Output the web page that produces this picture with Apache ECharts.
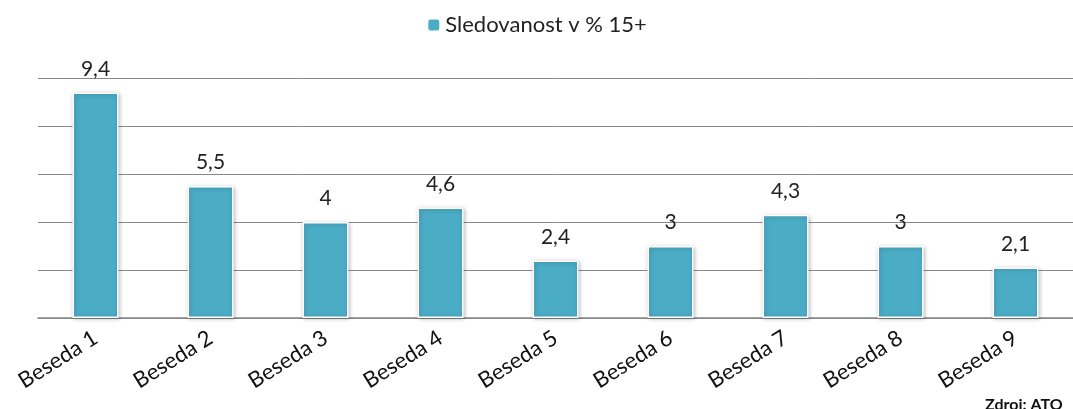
<!DOCTYPE html>
<html>
<head>
<meta charset="utf-8">
<script src="https://cdn.jsdelivr.net/npm/echarts@6/dist/echarts.min.js"></script>
<style>
  html, body { margin: 0; padding: 0; background: #fff; }
  #chart { width: 1073px; height: 409px; }
</style>
</head>
<body>
<div id="chart"></div>
<script>
const categories = ['Beseda 1', 'Beseda 2', 'Beseda 3', 'Beseda 4', 'Beseda 5', 'Beseda 6', 'Beseda 7', 'Beseda 8', 'Beseda 9'];
const values = [9.4, 5.5, 4, 4.6, 2.4, 3, 4.3, 3, 2.1];
const seriesName = 'Sledovanost v % 15+';

const chart = echarts.init(document.getElementById('chart'));
const font = 'Lato, "Open Sans", sans-serif';

chart.setOption({
  animation: false,
  textStyle: { fontFamily: font },
  legend: {
    top: 9,
    left: 'center',
    itemWidth: 13,
    itemHeight: 13,
    itemGap: 4,
    textStyle: { fontSize: 22, color: '#222', fontFamily: font },
    data: [seriesName]
  },
  grid: { left: 38, width: 1039, top: 78, bottom: 91, containLabel: false },
  xAxis: {
    type: 'category',
    data: categories,
    axisTick: { show: false },
    axisLine: { lineStyle: { color: '#888', width: 1.5 } },
    axisLabel: {
      rotate: 32,
      fontSize: 22,
      color: '#111',
      margin: 18,
      fontFamily: font
    }
  },
  yAxis: {
    type: 'value',
    min: 0,
    max: 10,
    interval: 2,
    axisLabel: { show: false },
    axisLine: { show: false },
    axisTick: { show: false },
    splitLine: { lineStyle: { color: '#888', width: 1 } }
  },
  series: [{
    name: seriesName,
    type: 'bar',
    data: values,
    barWidth: 46,
    itemStyle: {
      color: '#4BACC6',
      borderColor: '#fff',
      borderWidth: 1.5,
      shadowBlur: 4,
      shadowColor: 'rgba(0,0,0,0.25)',
      shadowOffsetX: 1,
      shadowOffsetY: 1
    },
    label: {
      show: true,
      position: 'top',
      distance: 13,
      fontSize: 21,
      color: '#222',
      fontFamily: font,
      formatter: p => String(p.value).replace('.', ',')
    }
  }],
  graphic: [{
    type: 'text',
    left: 985,
    top: 397,
    style: { text: 'Zdroj: ATO', fontSize: 16, fontWeight: 'bold', fill: '#111', fontFamily: font }
  }]
});
</script>
</body>
</html>
